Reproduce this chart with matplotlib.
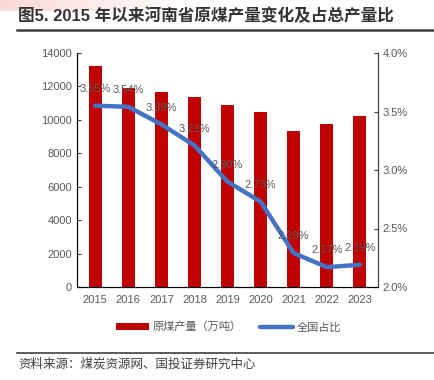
import numpy as np
import matplotlib.pyplot as plt

plt.rcParams['font.family'] = ['Liberation Sans', 'Noto Sans CJK SC', 'DejaVu Sans']

years = ['2015', '2016', '2017', '2018', '2019', '2020', '2021', '2022', '2023']
output = [13250, 11900, 11670, 11370, 10890, 10470, 9340, 9760, 10230]
share = [3.55, 3.54, 3.39, 3.21, 2.90, 2.73, 2.29, 2.17, 2.19]

grey = '#595959'
red = '#C00000'
blue = '#4472C4'

fig = plt.figure(figsize=(4.35, 3.8), dpi=100)

# faint pink band at top-left corner
bg = fig.add_axes([0, 0.97, 0.45, 0.03])
grad = np.linspace(0, 1, 100).reshape(1, -1)
bg.imshow(grad, aspect='auto', cmap=plt.matplotlib.colors.LinearSegmentedColormap.from_list('p', ['#f9d9d6', '#ffffff']))
bg.axis('off')

fig.text(18 / 435, 1 - 16 / 380, '图5. 2015 年以来河南省原煤产量变化及占总产量比',
         fontsize=12, fontweight='bold', color='#333333', va='center', ha='left')
fig.add_artist(plt.Line2D([17 / 435, 1], [1 - 30 / 380] * 2, color='#404040', lw=1.8))

ax = fig.add_axes([77 / 435, 1 - 287 / 380, 301 / 435, 234 / 380])
x = np.arange(len(years))
ax.bar(x, output, width=0.4, color=red, label='原煤产量（万吨）', zorder=2)
ax.set_ylim(0, 14000)
ax.set_yticks(range(0, 14001, 2000))
ax.set_xlim(-0.55, len(years) - 0.45)
ax.set_xticks(x)
ax.set_xticklabels(years)
ax.tick_params(axis='x', length=0, labelsize=8, labelcolor=grey, pad=6)
ax.tick_params(axis='y', direction='in', length=3, labelsize=8, labelcolor=grey, color='#404040')
ax.spines['top'].set_visible(False)
for s in ['left', 'right', 'bottom']:
    ax.spines[s].set_color('#404040')

ax2 = ax.twinx()
ax2.plot(x, share, color=blue, lw=3.2, label='全国占比', solid_capstyle='round', zorder=3)
ax2.set_ylim(2.0, 4.0)
ax2.set_yticks([2.0, 2.5, 3.0, 3.5, 4.0])
ax2.set_yticklabels(['%.1f%%' % v for v in [2.0, 2.5, 3.0, 3.5, 4.0]])
ax2.tick_params(axis='y', direction='in', length=3, labelsize=8, labelcolor=grey, color='#404040')
ax2.spines['top'].set_visible(False)
ax2.spines['right'].set_color('#404040')
for xi, v in zip(x, share):
    ax2.annotate('%.2f%%' % v, (xi, v), xytext=(0, 12), textcoords='offset points',
                 ha='center', va='center', fontsize=8, color=grey)

h1, l1 = ax.get_legend_handles_labels()
h2, l2 = ax2.get_legend_handles_labels()
fig.legend(h1 + h2, l1 + l2, loc='center', bbox_to_anchor=(0.525, 1 - 327 / 380), ncol=2,
           frameon=False, fontsize=8, labelcolor=grey, handlelength=3.0, handleheight=0.5,
           columnspacing=1.6, handletextpad=0.3)

fig.add_artist(plt.Line2D([17 / 435, 1], [1 - 353 / 380] * 2, color='#404040', lw=1.2))
fig.text(18 / 435, 1 - 364 / 380, '资料来源：煤炭资源网、国投证券研究中心',
         fontsize=9, color='#404040', va='center', ha='left', style='italic')

fig.savefig('out.png', dpi=100)
